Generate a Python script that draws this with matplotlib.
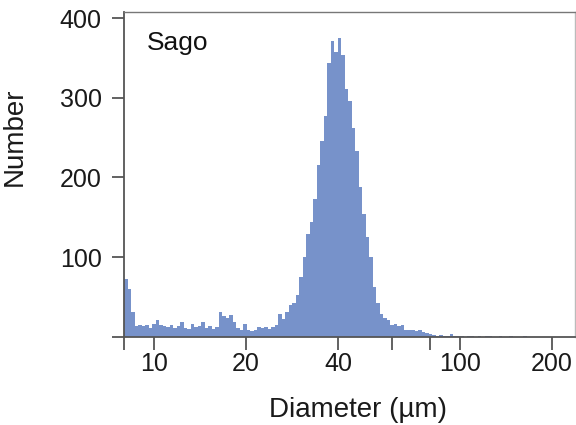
import numpy as np
import matplotlib
matplotlib.use("Agg")
import matplotlib.pyplot as plt
from matplotlib.ticker import FixedLocator, NullFormatter, FixedFormatter

plt.rcParams['font.family'] = ['Liberation Sans', 'DejaVu Sans']

# Histogram channels (log-spaced), counts
d_min = 8.0            # lower diameter of first channel (µm)
channel_dex = 0.011438 # channel width in log10 units
counts = [72, 60, 31, 14, 15, 13, 15, 11, 16, 21,
          15, 14, 12, 15, 11, 13, 18, 11, 10, 16,
          12, 13, 18, 11, 13, 10, 12, 31, 26, 24,
          27, 18, 11, 9, 16, 8, 7, 9, 12, 11,
          12, 10, 12, 15, 28, 22, 31, 40, 42, 52,
          75, 100, 129, 144, 173, 215, 246, 277, 344, 371,
          358, 375, 354, 311, 296, 262, 233, 188, 154, 125,
          100, 62, 42, 29, 23, 21, 15, 16, 14, 15,
          9, 8, 9, 7, 8, 6, 5, 3, 2, 1,
          2, 1, 1, 3, 1, 1, 1, 0, 1, 1,
          0, 1, 0, 1, 1, 0, 0, 1, 0, 0,
          1, 0, 0, 0, 1, 0, 0, 0, 0, 0,
          0, 0, 0, 0, 0, 0, 0, 0, 0]

x_major = [10, 20, 40, 100, 200]
x_major_labels = ['10', '20', '40', '100', '200']
x_minor = [8, 60, 80]
y_ticks = [0, 100, 200, 300, 400]
y_labels = ['', '100', '200', '300', '400']

edges = d_min * 10 ** (channel_dex * np.arange(len(counts) + 1))
lefts = edges[:-1]
widths = np.diff(edges)

fig = plt.figure(figsize=(5.76, 4.25), dpi=100)
ax = fig.add_axes([124/576, 1 - 336.7/425, 451/576, 325/425])
ax.bar(lefts, counts, width=widths, align='edge', color='#7792ca',
       edgecolor='none', linewidth=0)

ax.set_xscale('log')
ax.set_xlim(8, 238)
ax.set_ylim(0, 408)

ax.xaxis.set_major_locator(FixedLocator(x_major))
ax.xaxis.set_major_formatter(FixedFormatter(x_major_labels))
ax.xaxis.set_minor_locator(FixedLocator(x_minor))
ax.xaxis.set_minor_formatter(NullFormatter())
ax.set_yticks(y_ticks)
ax.set_yticklabels(y_labels)

ax.tick_params(axis='x', which='both', direction='out', length=9, width=1.3,
               color='#555555', labelsize=18, pad=2, labelcolor='#1a1a1a')
ax.tick_params(axis='y', which='major', direction='out', length=9, width=1.3,
               color='#555555', labelsize=18, pad=7, labelcolor='#1a1a1a')

for s in ['left', 'bottom']:
    ax.spines[s].set_color('#555555')
    ax.spines[s].set_linewidth(1.3)
ax.spines['top'].set_color('#777777')
ax.spines['top'].set_linewidth(1.0)
ax.spines['right'].set_color('#bbbbbb')
ax.spines['right'].set_linewidth(1.0)

ax.text(0.051, 0.882, 'Sago', transform=ax.transAxes, fontsize=19,
        ha='left', va='baseline', color='#111111')

fig.text(358/576, 1 - 410/425, 'Diameter (µm)', ha='center', va='center',
         fontsize=20, color='#1a1a1a')
fig.text(15/576, 1 - 137/425, 'Number', ha='center', va='center',
         rotation=90, fontsize=20, color='#1a1a1a')

fig.savefig('out.png', dpi=100)
